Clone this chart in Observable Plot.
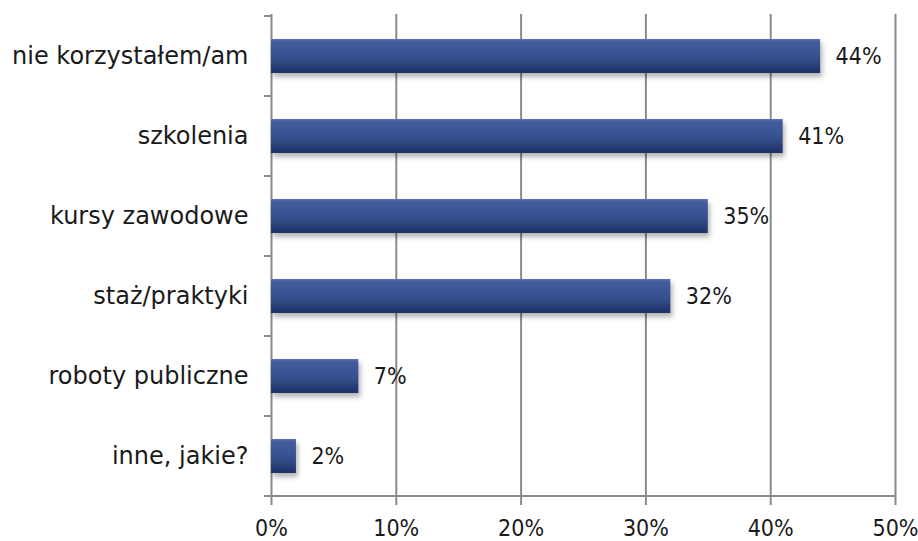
<!DOCTYPE html>
<html><head><meta charset="utf-8">
<script src="https://cdn.jsdelivr.net/npm/d3@7"></script>
<script src="https://cdn.jsdelivr.net/npm/@observablehq/plot@0.6"></script>
<style>body{margin:0;background:#fff;} svg{display:block;}</style>
</head><body><div id="chart"></div>
<script>
const categories = ["nie korzystałem/am","szkolenia","kursy zawodowe","staż/praktyki","roboty publiczne","inne, jakie?"];
const values = [44, 41, 35, 32, 7, 2];
const xTicks = [0, 10, 20, 30, 40, 50];

const data = categories.map((c, i) => ({cat: c, value: values[i]}));
const FONT = "DejaVu Sans, sans-serif";
const NUMFONT = "DejaVu Sans Condensed, DejaVu Sans, sans-serif";

const chart = Plot.plot({
  width: 918, height: 541,
  marginLeft: 271, marginRight: 23, marginTop: 14, marginBottom: 44,
  style: {fontFamily: FONT, background: "#fff", color: "#1a1a1a"},
  x: {domain: [0, 50]},
  y: {domain: categories, paddingInner: 0.58, paddingOuter: 0.29},
  marks: [
    Plot.gridX(xTicks, {stroke: "#8a8a8a", strokeOpacity: 1, strokeWidth: 2}),
    Plot.axisX(xTicks, {tickFormat: d => d + "%", tickSize: 8, tickPadding: 14, fontSize: 23, fontFamily: NUMFONT, stroke: "#8a8a8a", strokeWidth: 2, fill: "#1a1a1a", label: null}),
    Plot.axisY({tickSize: 0, tickPadding: 23, fontSize: 24, fill: "#1a1a1a", label: null}),
    Plot.barX(data, {x: "value", y: "cat", fill: "url(#barGrad)"}),
    Plot.text(data, {x: "value", y: "cat", text: d => d.value + "%", dx: 15, textAnchor: "start", fontSize: 23, fontFamily: NUMFONT, fill: "#1a1a1a"})
  ]
});

const svg = d3.select(chart);
const defs = svg.insert("defs", ":first-child");
const grad = defs.append("linearGradient").attr("id", "barGrad").attr("x1", 0).attr("y1", 0).attr("x2", 0).attr("y2", 1);
[[0, "#5a74b3"], [0.08, "#435d9e"], [0.55, "#36508f"], [1, "#1f3064"]].forEach(([o, c]) => grad.append("stop").attr("offset", o).attr("stop-color", c));
const filt = defs.append("filter").attr("id", "shadow").attr("x", "-10%").attr("y", "-20%").attr("width", "130%").attr("height", "160%");
filt.append("feDropShadow").attr("dx", 2).attr("dy", 4).attr("stdDeviation", 2.5).attr("flood-color", "#000").attr("flood-opacity", 0.3);
svg.selectAll("rect").filter(function(){ return this.getAttribute("fill") === "url(#barGrad)" || (this.parentNode && this.parentNode.getAttribute && this.parentNode.getAttribute("fill") === "url(#barGrad)"); }).attr("filter", "url(#shadow)");

const xs = chart.scale("x"), ys = chart.scale("y");
const x0 = xs.apply(0), x50 = xs.apply(50);
const stepY = ys.step, bwY = ys.bandwidth;
const bottomY = ys.apply(categories[categories.length - 1]) + bwY + (stepY - bwY) / 2;
const lay = svg.append("g").attr("stroke", "#8a8a8a").attr("stroke-width", 2);
lay.append("line").attr("x1", x0 - 7).attr("x2", x50).attr("y1", bottomY).attr("y2", bottomY);
categories.forEach((c) => {
  const yy = ys.apply(c) - (stepY - bwY) / 2;
  lay.append("line").attr("x1", x0 - 7).attr("x2", x0).attr("y1", yy).attr("y2", yy);
});

document.getElementById("chart").appendChild(chart);
</script></body></html>
